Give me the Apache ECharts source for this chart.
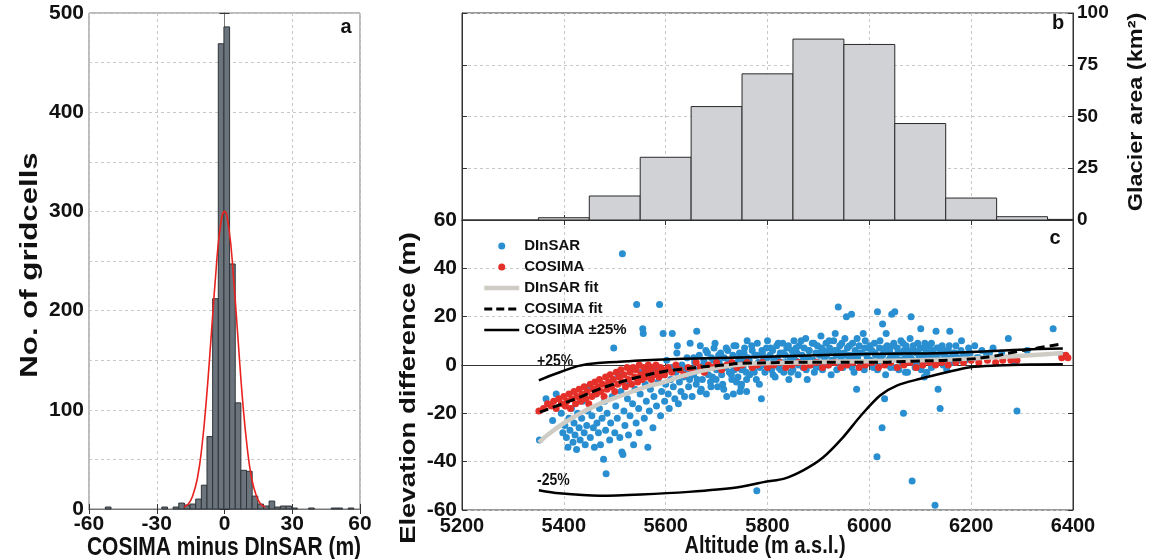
<!DOCTYPE html>
<html>
<head>
<meta charset="utf-8">
<script src="https://cdn.jsdelivr.net/npm/echarts@6/dist/echarts.min.js"></script>
<style>
  html, body { margin: 0; padding: 0; background: #fff; }
  #main { width: 1153px; height: 559px; }
</style>
</head>
<body>
<div id="main"></div>
<script>
// panel a: histogram of COSIMA minus DInSAR
var binWidthA = 2.5;
var binCentersA = [-51.5, -26.5, -21.5, -19, -16.5, -14, -11.5, -9, -6.5, -4, -1.5, 1, 3.5, 6, 8.5, 11, 13.5, 16, 18.5, 21, 23.5, 26, 28.5, 31, 38.5, 48.5, 51, 56];
var countsA = [2, 2, 2, 6, 4, 5, 10, 24, 73, 212, 469, 486, 247, 107, 39, 38, 13, 5, 3, 8, 2, 3, 3, 1, 1, 1, 1, 1];
var curveX = [-18, -16, -14, -12, -10, -8, -6, -4, -2, 0, 2, 4, 6, 8, 10, 12, 14, 16, 18];
var curveY = [2, 5, 14, 31, 63, 111, 171, 233, 282, 300, 282, 233, 171, 110, 63, 31, 14, 5, 2];

// panel b: glacier area per 100 m band
var binStartB = [5350, 5450, 5550, 5650, 5750, 5850, 5950, 6050, 6150, 6250, 6350];
var binWidthB = 100;
var areaB = [1.1, 11.6, 30.3, 54.8, 70.6, 87.4, 84.8, 46.6, 10.6, 1.6, 0.3];

// panel c: elevation difference vs altitude
var dinsarPts = [
  [5352,-31],[5365,-14],[5378,-23],[5385,-12],[5395,-20],[5398,-28],[5402,-25],[5405,-30],[5408,-34],[5410,-22],
  [5412,-27],[5415,-18],[5418,-32],[5420,-24],[5422,-29],[5425,-35],[5427,-20],[5430,-26],[5432,-31],[5435,-22],
  [5437,-15],[5440,-28],[5442,-33],[5445,-25],[5447,-19],[5448,-9],
  [5452,-30],[5455,-21],[5458,-26],[5460,-34],[5462,-12],[5465,-24],[5468,-28],[5470,-18],[5472,-33],[5475,-22],
  [5478,-39],[5480,-15],[5482,-27],[5483,-45],[5485,-20],[5488,-9],[5490,-31],[5492,-24],[5495,-13],[5497,-6],
  [5498,7],[5500,-28],[5502,-17],[5505,-22],[5507,-4],[5510,-30],[5512,-11],[5514,-36],[5515,46],[5516,-37],
  [5518,-19],[5520,-25],[5522,-8],[5525,-14],[5527,-29],[5530,-21],[5532,-2],[5535,-16],[5537,-33],[5540,-10],
  [5542,-24],[5543,25],[5545,-6],[5547,-18],[5548,-28],
  [5550,-12],[5552,-3],[5555,15],[5556,13],[5558,-22],[5560,-8],[5562,-15],[5565,-34],[5566,-1],[5568,-19],
  [5570,-10],[5572,-5],[5575,-26],[5577,-13],[5580,-2],[5582,-17],[5585,-7],[5588,25],[5590,-21],[5592,-11],
  [5595,13],[5596,-4],[5598,-15],[5600,-8],[5602,2],[5605,-12],[5607,-18],[5610,-6],[5612,-1],[5613,13],
  [5615,-9],[5618,-14],[5620,-3],[5622,5],[5623,8],[5625,-16],[5627,-7],[5630,-11],[5632,0],[5635,-5],
  [5637,-13],[5640,-2],[5642,3],[5645,-9],[5647,-6],[5648,9],
  [5652,-13],[5655,-4],[5657,1],[5660,-8],[5661,14],[5663,-2],[5666,4],[5668,8],[5670,-10],[5672,-6],
  [5675,2],[5678,-3],[5680,-12],[5682,5],[5685,-1],[5688,-7],[5690,3],[5692,-5],[5695,7],[5697,9],
  [5700,-2],[5702,-9],[5705,1],[5708,5],[5710,-4],[5712,-8],[5715,3],[5718,-1],[5720,-13],[5722,6],
  [5725,-3],[5728,0],[5730,-6],[5732,4],[5733,-12],[5735,-2],[5738,8],[5740,1],[5742,-5],[5745,5],
  [5746,-11],[5748,-9],[5749,-8],[5750,2],[5752,-1],[5755,7],[5758,-3],[5759,-11],[5760,10],[5762,3],
  [5765,-4],[5768,0],[5770,6],[5772,-2],[5775,4],[5778,-6],[5779,-52],[5780,9],[5782,1],[5785,-1],
  [5788,-14],[5790,5],[5792,2],[5795,-3],[5798,7],[5800,10],
  [5803,0],[5805,4],[5808,-2],[5810,6],[5812,2],[5815,-5],[5818,8],[5820,3],[5822,-1],[5825,5],
  [5828,1],[5830,9],[5832,-3],[5835,4],[5838,7],[5840,0],[5842,-6],[5845,3],[5848,6],[5850,-2],
  [5852,10],[5855,2],[5858,5],[5860,-4],[5862,8],[5865,1],[5868,4],[5870,-1],[5872,7],[5875,11],
  [5878,-6],[5880,3],[5882,6],[5885,0],[5888,9],[5890,2],[5892,-3],[5895,5],[5898,8],[5900,1],
  [5902,4],[5905,12],[5908,-2],[5910,6],[5912,3],[5915,9],[5918,0],[5920,5],[5922,7],[5925,-4],
  [5928,2],[5930,10],[5933,13],[5935,4],[5937,6],[5939,24],[5940,1],[5942,8],[5945,3],[5948,-1],
  [5950,5],[5952,11],[5955,20],[5957,7],[5960,2],[5962,4],[5965,21],[5967,9],[5970,-3],[5972,6],
  [5975,-10],[5977,3],[5980,8],[5982,1],[5985,5],[5988,13],[5990,-2],[5992,10],[5995,4],[5998,7],
  [6002,2],[6005,6],[6008,-1],[6010,9],[6012,4],[6015,-38],[6016,22],[6018,1],[6020,7],[6022,3],
  [6025,-26],[6026,17],[6028,5],[6030,-14],[6032,-4],[6033,13],[6035,8],[6038,2],[6040,6],[6042,-1],
  [6044,21],[6045,4],[6048,9],[6050,22],[6052,3],[6055,7],[6058,-2],[6060,5],[6062,10],[6065,1],
  [6067,-20],[6068,6],[6070,3],[6072,8],[6075,-3],[6078,4],[6080,11],[6082,20],[6084,-48],[6085,2],
  [6088,6],[6090,-1],[6092,5],[6095,9],[6098,3],[6100,7],[6101,15],[6103,1],[6105,4],[6108,-5],
  [6109,9],[6112,6],[6113,-3],[6115,2],[6118,8],[6120,4],[6122,-1],[6125,6],[6128,3],[6129,-58],
  [6131,14],[6133,7],[6135,-10],[6138,2],[6139,-18],[6140,5],[6143,8],[6145,0],[6148,4],[6152,-2],
  [6155,6],[6158,14],[6160,3],[6165,5],[6170,8],[6175,2],[6181,10],[6185,4],[6191,4],[6195,7],
  [6207,8],[6211,3],[6221,6],[6230,4],[6243,7],[6260,5],[6273,11],[6286,1],[6290,-19],[6310,6],
  [6361,15],[6378,4],
  [5655,3],[5662,-6],[5668,-11],[5674,0],[5679,6],[5684,-4],[5689,-9],[5694,2],[5699,-6],[5704,4],
  [5709,-1],[5714,-10],[5719,7],[5724,1],[5729,-4],[5734,8],[5739,-7],[5744,3],[5749,-2],[5754,5],
  [5759,-6],[5764,2],[5769,8],[5774,-3],[5779,4],[5784,-8],[5789,6],[5794,0],[5799,3],
  [5806,7],[5811,-4],[5816,2],[5821,9],[5826,-2],[5831,5],[5836,1],[5841,8],[5846,-3],[5851,4],
  [5856,7],[5861,0],[5866,10],[5871,3],[5876,-2],[5881,6],[5886,2],[5891,9],[5896,-1],[5901,5],
  [5906,7],[5911,0],[5916,4],[5921,10],[5926,2],[5931,6],[5936,-2],[5941,5],[5946,9],[5951,1],
  [5956,4],[5961,8],[5966,-1],[5971,3],[5976,11],[5981,5],[5986,0],[5991,7],[5996,3],
  [6001,8],[6006,1],[6011,5],[6016,-2],[6021,10],[6026,4],[6031,7],[6036,0],[6041,3],[6046,8],
  [6051,-1],[6056,5],[6061,2],[6066,9],[6071,-3],[6076,6],[6081,3],[6086,8],[6091,1],[6096,5],
  [6102,-2],[6107,7],[6112,3],[6117,5],[6122,9],[6127,1],[6132,4],[6137,7],[6142,2],[6147,6],
  [6152,3],[6157,8],[6162,1],[6168,5],[6174,3],[6180,6],[6188,2],[6198,5],[6215,3],[6236,5]
];
var cosimaPts = [
  [5351,-19],[5360,-18],[5368,-16],[5375,-17],[5380,-15],[5385,-18],[5390,-14],[5395,-16],[5400,-13],[5403,-17],
  [5406,-15],[5410,-12],[5413,-18],[5416,-14],[5420,-11],[5423,-16],[5426,-13],[5430,-10],[5433,-15],[5436,-12],
  [5440,-9],[5443,-14],[5446,-11],[5449,-16],
  [5452,-8],[5455,-13],[5458,-10],[5461,-7],[5464,-12],[5467,-9],[5470,-6],[5473,-11],[5476,-8],[5479,-13],
  [5482,-5],[5485,-10],[5488,-7],[5491,-4],[5494,-9],[5497,-6],[5500,-11],[5503,-3],[5506,-8],[5509,-5],
  [5512,-2],[5515,-7],[5518,-4],[5521,-9],[5524,-1],[5527,-6],[5530,-3],[5533,-8],[5536,-1],[5539,-5],
  [5542,-2],[5545,-7],[5548,0],[5551,-4],[5554,-6],[5557,-1],[5560,-3],[5563,-5],[5566,0],[5569,-2],
  [5572,-6],[5575,-1],[5578,-4],[5581,0],[5584,-3],[5587,-5],[5590,-1],[5594,-2],[5598,-4],
  [5605,-1],[5612,-3],[5620,0],[5628,-2],[5636,-4],[5644,-1],[5652,-2],[5660,1],[5668,-1],[5676,-3],
  [5684,0],[5692,-1],[5700,1],[5710,-2],[5720,0],[5730,1],[5740,-1],[5750,0],[5760,1],[5770,-1],
  [5780,0],[5790,1],[5800,-1],[5812,0],[5824,1],[5836,-1],[5848,0],[5860,1],[5872,-1],[5884,0],
  [5896,1],[5908,-1],[5920,0],[5932,1],[5944,-1],[5956,0],[5968,1],[5980,-1],[5992,0],
  [6005,1],[6018,-1],[6030,0],[6042,1],[6055,-1],[6068,0],[6080,1],[6092,-1],[6105,0],[6118,1],
  [6130,0],[6142,1],[6155,0],[6170,1],[6185,1],[6200,2],[6215,1],[6232,2],[6248,1],[6262,2],
  [6278,2],[6290,2],[6378,3],[6386,4],[6390,3]
];
var dinsarFit = [[5351,-32],[5380,-27],[5419,-21.6],[5471,-16],[5523,-11.9],[5569,-8.5],[5589,-7.6],[5635,-4.4],[5700,-1.2],[5766,0.5],[5831,0.9],[5897,1.2],[5995,1.6],[6100,2.0],[6200,2.7],[6300,3.8],[6380,5.0]];
var cosimaFit = [[5353,-19.5],[5419,-14.3],[5484,-8.9],[5550,-4.8],[5589,-3],[5635,-1.6],[5700,-0.3],[5766,0.8],[5897,1.1],[5995,1.1],[6087,1.6],[6185,2.3],[6240,3.5],[6283,5.3],[6330,7],[6380,8.8]];
var plus25 = [[5351,-6.4],[5392,-3],[5445,0.3],[5517,1.4],[5582,2.2],[5765,3.2],[5995,4.6],[6152,5.0],[6283,6.2],[6380,6.8]];
var minus25 = [[5351,-51.8],[5391,-53.1],[5471,-54.1],[5551,-53.6],[5645,-52.5],[5739,-50.7],[5796,-48.3],[5833,-47],[5871,-43.5],[5909,-38.3],[5946,-30.5],[5984,-20.8],[6021,-12.6],[6054,-8.5],[6100,-5.7],[6152,-3],[6198,-0.9],[6250,-0.2],[6316,0.2],[6380,0.3]];

var FONT = "'Liberation Sans', Arial, sans-serif";

var histA = binCentersA.map(function (c, i) { return [c - binWidthA / 2, c + binWidthA / 2, countsA[i]]; });
var histB = binStartB.map(function (s, i) { return [s, s + binWidthB, areaB[i]]; });
var curveA = curveX.map(function (x, i) { return [x, curveY[i]]; });

function histItem(fill, stroke) {
  return function (params, api) {
    var p0 = api.coord([api.value(0), api.value(2)]);
    var p1 = api.coord([api.value(1), 0]);
    var shape = echarts.graphic.clipRectByRect(
      { x: p0[0], y: p0[1], width: p1[0] - p0[0], height: p1[1] - p0[1] },
      { x: params.coordSys.x, y: params.coordSys.y, width: params.coordSys.width, height: params.coordSys.height }
    );
    if (!shape) return;
    return { type: 'rect', shape: shape, style: { fill: fill, stroke: stroke, lineWidth: 1 } };
  };
}

var split = { show: true, lineStyle: { color: '#c8c8c8', type: [3, 3], width: 1 } };
var tick = { show: true, inside: true, length: 5, lineStyle: { color: '#333' } };
var line = { show: true, lineStyle: { color: '#333', width: 1 } };
var lab = function (size) {
  return { color: '#111', fontFamily: FONT, fontWeight: 'bold', fontSize: size, formatter: function (v) { return String(v); } };
};
function mirror(base, extra) {
  var o = Object.assign({ type: 'value', axisLine: line, axisTick: tick, axisLabel: { show: false }, splitLine: { show: false } }, base);
  return Object.assign(o, extra || {});
}
var noDot = { opacity: 0 };

var myChart = echarts.init(document.getElementById('main'));
myChart.setOption({
  animation: false,
  grid: [
    { left: 89, top: 13, width: 271, height: 496, show: true, borderColor: '#777', borderWidth: 1 },
    { left: 462, top: 13, width: 611, height: 207, show: true, borderColor: '#333', borderWidth: 1 },
    { left: 462, top: 220, width: 611, height: 290, show: true, borderColor: '#333', borderWidth: 1 }
  ],
  xAxis: [
    { type: 'value', gridIndex: 0, position: 'bottom', min: -60, max: 60, interval: 30,
      axisLine: { lineStyle: { color: '#777' } }, axisTick: tick, splitLine: split,
      axisLabel: Object.assign(lab(21), { margin: 5 }) },
    mirror({ gridIndex: 0, position: 'top', min: -60, max: 60, interval: 30, axisLine: { lineStyle: { color: '#777' } } }),
    { type: 'value', gridIndex: 1, position: 'bottom', min: 5200, max: 6400, interval: 200,
      axisLine: line, axisTick: tick, splitLine: split, axisLabel: { show: false } },
    mirror({ gridIndex: 1, position: 'top', min: 5200, max: 6400, interval: 200 }),
    { type: 'value', gridIndex: 2, position: 'bottom', min: 5200, max: 6400, interval: 200,
      axisLine: line, axisTick: tick, splitLine: split,
      axisLabel: Object.assign(lab(20), { margin: 6 }) },
    mirror({ gridIndex: 2, position: 'top', min: 5200, max: 6400, interval: 200 })
  ],
  yAxis: [
    { type: 'value', gridIndex: 0, position: 'left', min: 0, max: 500, interval: 50,
      axisLine: { lineStyle: { color: '#777' } }, axisTick: tick, splitLine: split,
      axisLabel: Object.assign(lab(21), { margin: 5, formatter: function (v) { return v % 100 === 0 ? String(v) : ''; } }) },
    mirror({ gridIndex: 0, position: 'right', min: 0, max: 500, interval: 50, axisLine: { lineStyle: { color: '#777' } } }),
    { type: 'value', gridIndex: 1, position: 'right', min: 0, max: 100, interval: 25,
      axisLine: line, axisTick: tick, splitLine: split,
      axisLabel: Object.assign(lab(19), { margin: 4 }) },
    mirror({ gridIndex: 1, position: 'left', min: 0, max: 100, interval: 25 }),
    { type: 'value', gridIndex: 2, position: 'left', min: -60, max: 60, interval: 20,
      axisLine: line, axisTick: tick, splitLine: split,
      axisLabel: Object.assign(lab(21), { margin: 5 }) },
    mirror({ gridIndex: 2, position: 'right', min: -60, max: 60, interval: 20 })
  ],
  legend: {
    orient: 'vertical', left: 477, top: 233, itemWidth: 35, itemHeight: 7, itemGap: 5,
    symbolKeepAspect: true,
    textStyle: { color: '#111', fontFamily: FONT, fontWeight: 'bold', fontSize: 15, lineHeight: 16 },
    data: [
      'DInSAR', 'COSIMA',
      { name: 'DInSAR fit', itemStyle: noDot, lineStyle: { width: 4.5, color: '#cfccc5' } },
      { name: 'COSIMA fit', itemStyle: noDot, lineStyle: { width: 3, color: '#000', type: [8, 4] } },
      { name: 'COSIMA ±25%', itemStyle: noDot, lineStyle: { width: 2.5, color: '#000' } }
    ]
  },
  series: [
    { type: 'custom', name: 'histA', xAxisIndex: 0, yAxisIndex: 0, data: histA,
      encode: { x: [0, 1], y: 2 }, renderItem: histItem('#6b747c', '#2f3438') },
    { type: 'line', name: 'fitA', xAxisIndex: 0, yAxisIndex: 0, data: curveA, smooth: true,
      symbol: 'none', lineStyle: { color: '#e8231f', width: 1.6 } },
    { type: 'custom', name: 'histB', xAxisIndex: 2, yAxisIndex: 2, data: histB,
      encode: { x: [0, 1], y: 2 }, renderItem: histItem('#d0d2d5', '#2a2a2a') },
    { type: 'scatter', name: 'DInSAR', xAxisIndex: 4, yAxisIndex: 4, data: dinsarPts,
      symbol: 'circle', symbolSize: 7, itemStyle: { color: '#2a8fd0', opacity: 1 } },
    { type: 'scatter', name: 'COSIMA', xAxisIndex: 4, yAxisIndex: 4, data: cosimaPts,
      symbol: 'circle', symbolSize: 7, itemStyle: { color: '#e5302a', opacity: 1 } },
    { type: 'line', name: 'DInSAR fit', xAxisIndex: 4, yAxisIndex: 4, data: dinsarFit, smooth: true,
      symbol: 'none', lineStyle: { color: '#cfccc5', width: 4.5 }, itemStyle: { color: '#cfccc5' } },
    { type: 'line', name: 'COSIMA fit', xAxisIndex: 4, yAxisIndex: 4, data: cosimaFit, smooth: true,
      symbol: 'none', lineStyle: { color: '#000', width: 3, type: [9, 5] }, itemStyle: { color: '#000' } },
    { type: 'line', name: 'COSIMA ±25%', xAxisIndex: 4, yAxisIndex: 4, data: plus25, smooth: true,
      symbol: 'none', lineStyle: { color: '#000', width: 2.5 }, itemStyle: { color: '#000' } },
    { type: 'line', name: 'COSIMA ±25%', xAxisIndex: 4, yAxisIndex: 4, data: minus25, smooth: 0.3,
      symbol: 'none', lineStyle: { color: '#000', width: 2.5 }, itemStyle: { color: '#000' } }
  ],
  graphic: [
    { type: 'text', x: 30, y: 265, rotation: Math.PI / 2, scaleX: 1.3,
      style: { text: 'No. of gridcells', font: 'bold 24px ' + FONT, fill: '#111', align: 'center', verticalAlign: 'middle' } },
    { type: 'text', x: 224, y: 548, scaleY: 1.25,
      style: { text: 'COSIMA minus DInSAR (m)', font: 'bold 21px ' + FONT, fill: '#111', align: 'center', verticalAlign: 'middle' } },
    { type: 'text', x: 765, y: 546, scaleY: 1.2,
      style: { text: 'Altitude (m a.s.l.)', font: 'bold 20px ' + FONT, fill: '#111', align: 'center', verticalAlign: 'middle' } },
    { type: 'text', x: 409, y: 388, rotation: Math.PI / 2, scaleX: 1.25,
      style: { text: 'Elevation difference (m)', font: 'bold 22px ' + FONT, fill: '#111', align: 'center', verticalAlign: 'middle' } },
    { type: 'text', x: 1136, y: 112, rotation: Math.PI / 2, scaleX: 1.12,
      style: { text: 'Glacier area (km²)', font: 'bold 21px ' + FONT, fill: '#111', align: 'center', verticalAlign: 'middle' } },
    { type: 'text', x: 346, y: 27, style: { text: 'a', font: 'bold 20px ' + FONT, fill: '#111', align: 'center', verticalAlign: 'middle' } },
    { type: 'text', x: 1058, y: 23, style: { text: 'b', font: 'bold 20px ' + FONT, fill: '#111', align: 'center', verticalAlign: 'middle' } },
    { type: 'text', x: 1055, y: 238, style: { text: 'c', font: 'bold 20px ' + FONT, fill: '#111', align: 'center', verticalAlign: 'middle' } },
    { type: 'text', x: 537, y: 362, scaleY: 1.15, style: { text: '+25%', font: 'bold 14px ' + FONT, fill: '#111', align: 'left', verticalAlign: 'middle' } },
    { type: 'text', x: 537, y: 481, scaleY: 1.15, style: { text: '-25%', font: 'bold 14px ' + FONT, fill: '#111', align: 'left', verticalAlign: 'middle' } }
  ]
});
</script>
</body>
</html>
